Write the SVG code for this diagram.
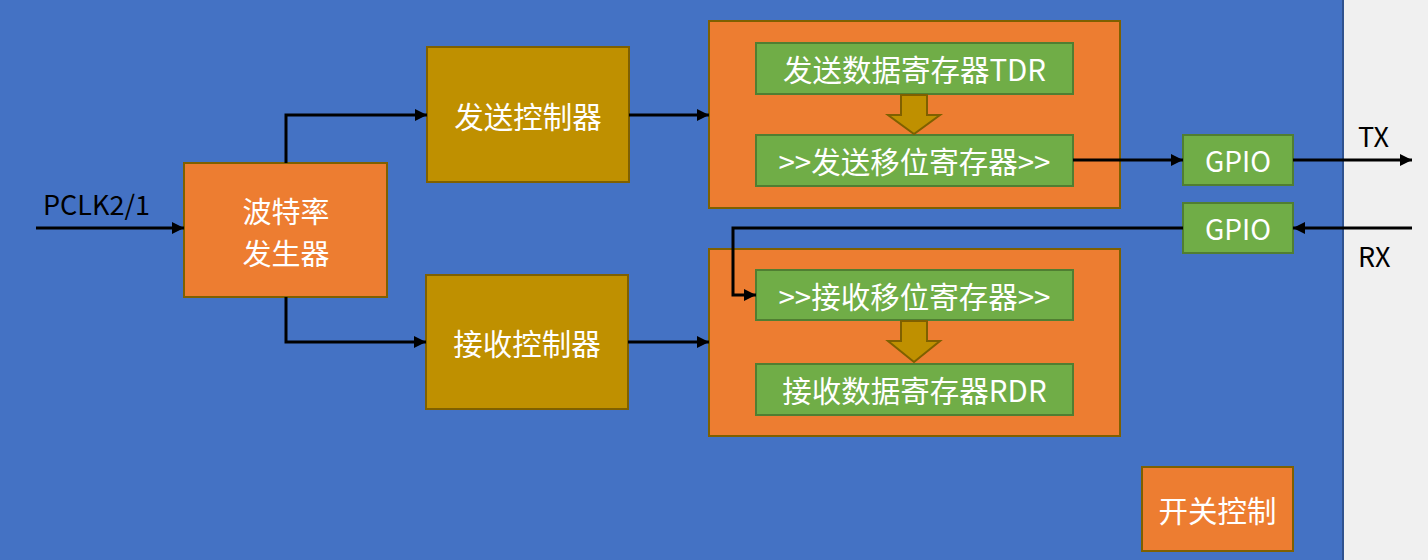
<svg xmlns="http://www.w3.org/2000/svg" width="1428" height="560" viewBox="0 0 1428 560">
<defs>
<marker id="ah" viewBox="0 0 10 10" refX="10" refY="5" markerWidth="4.3" markerHeight="4" markerUnits="strokeWidth" orient="auto">
<path d="M0,0 L10,5 L0,10 z" fill="#000"/>
</marker>
<style>
.org{fill:#ED7D31;stroke:#7F6000;stroke-width:2}
.gold{fill:#BF9000;stroke:#7F6000;stroke-width:2}
.grn{fill:#70AD47;stroke:#507E32;stroke-width:2}
.t{font-family:"Noto Sans CJK SC","Microsoft YaHei",sans-serif;font-size:29.5px;fill:#fff;text-anchor:middle;dominant-baseline:central}
.lbl{font-family:"Noto Sans CJK SC","Microsoft YaHei",sans-serif;font-size:27px;fill:#000}
.ln{fill:none;stroke:#000;stroke-width:3}
.darr{fill:#BF9000;stroke:#7F6000;stroke-width:2}
</style>
</defs>
<rect x="0" y="0" width="1428" height="560" fill="#F0F0F0"/>
<rect x="0" y="0" width="1343" height="560" fill="#4472C4"/>
<line x1="1343" y1="0" x2="1343" y2="560" stroke="#2F528F" stroke-width="2"/>

<g id="baud"><rect class="org" x="184" y="163" width="203" height="134"/><text class="t" x="286" y="209.5" style="font-size:29px">波特率</text><text class="t" x="286" y="251.5" style="font-size:29px">发生器</text></g>
<g id="txctl"><rect class="gold" x="427" y="47" width="202" height="135"/><text class="t" x="528" y="115">发送控制器</text></g>
<g id="rxctl"><rect class="gold" x="426" y="275" width="202" height="134"/><text class="t" x="527" y="342">接收控制器</text></g>
<g id="txbox"><rect class="org" x="709" y="21" width="411" height="187"/></g>
<g id="tdr"><rect class="grn" x="756" y="43" width="317" height="51"/><text class="t" x="914.5" y="68">发送数据寄存器TDR</text></g>
<g id="txshift"><rect class="grn" x="756" y="135" width="317" height="51"/><text class="t" x="914.5" y="160">&gt;&gt;发送移位寄存器&gt;&gt;</text></g>
<g id="rxbox"><rect class="org" x="709" y="249" width="411" height="187"/></g>
<g id="rxshift"><rect class="grn" x="756" y="270" width="317" height="50"/><text class="t" x="914.5" y="295">&gt;&gt;接收移位寄存器&gt;&gt;</text></g>
<g id="rdr"><rect class="grn" x="756" y="364" width="317" height="51"/><text class="t" x="914.5" y="389">接收数据寄存器RDR</text></g>
<g id="gpio1"><rect class="grn" x="1183" y="135" width="110" height="50"/><text class="t" x="1238" y="160" style="font-size:28px">GPIO</text></g>
<g id="gpio2"><rect class="grn" x="1183" y="203" width="110" height="50"/><text class="t" x="1238" y="228" style="font-size:28px">GPIO</text></g>
<g id="switch"><rect class="org" x="1142" y="467" width="151" height="84"/><text class="t" x="1217.5" y="509">开关控制</text></g>
<g id="arrows-inner">
<path class="darr" d="M901,95 H927 V115 H940 L914,134 L888,115 H901 Z"/>
<path class="darr" d="M901,321 H927 V341 H940 L914,362 L888,341 H901 Z"/>
</g>
<g id="labels">
<text class="lbl" x="43" y="215">PCLK2/1</text>
<text class="lbl" x="1358" y="147">TX</text>
<text class="lbl" x="1358" y="267">RX</text>
</g>
<g id="connectors">
<line class="ln" x1="36" y1="228" x2="184" y2="228" marker-end="url(#ah)"/>
<polyline class="ln" points="286,163 286,115 427,115" marker-end="url(#ah)"/>
<polyline class="ln" points="286,297 286,342 426,342" marker-end="url(#ah)"/>
<line class="ln" x1="629" y1="115" x2="709" y2="115" marker-end="url(#ah)"/>
<line class="ln" x1="628" y1="342" x2="709" y2="342" marker-end="url(#ah)"/>
<line class="ln" x1="1073" y1="160" x2="1183" y2="160" marker-end="url(#ah)"/>
<line class="ln" x1="1293" y1="160" x2="1412" y2="160" marker-end="url(#ah)"/>
<line class="ln" x1="1412" y1="228" x2="1293" y2="228" marker-end="url(#ah)"/>
<polyline class="ln" points="1183,228 733,228 733,295 756,295" marker-end="url(#ah)"/>
</g>
</svg>
